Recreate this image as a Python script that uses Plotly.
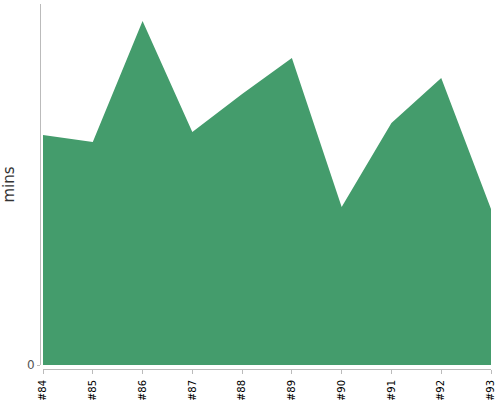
import plotly.graph_objects as go

# build numbers and duration (mins)
builds = ["#84", "#85", "#86", "#87", "#88", "#89", "#90", "#91", "#92", "#93"]
mins = [23.0, 22.3, 34.4, 23.3, 27.1, 30.7, 15.8, 24.2, 28.7, 15.6]
y_max = 36.1

fig = go.Figure()
fig.add_trace(go.Scatter(x=builds, y=mins, mode="lines", fill="tozeroy",
                         line=dict(width=0, color="#449c6c"),
                         fillcolor="#449c6c", hoverinfo="x+y"))

fig.update_layout(
    width=500, height=400,
    margin=dict(l=40, r=9, t=4, b=31, autoexpand=False),
    plot_bgcolor="white", paper_bgcolor="white",
    showlegend=False,
    font=dict(family="DejaVu Sans", color="#333"),
    xaxis=dict(domain=[3 / 451, 1], anchor="free", position=0,
               range=[0, len(builds) - 1], showgrid=False, zeroline=False,
               showline=True, linecolor="#bbb", linewidth=1, automargin=False,
               ticks="outside", ticklen=4, tickcolor="#bbb", ticklabelstandoff=2,
               tickangle=-90, tickfont=dict(size=10, color="black")),
    yaxis=dict(domain=[4 / 365, 1], anchor="free", position=0,
               range=[0, y_max], tickvals=[0], showgrid=False, zeroline=False,
               showline=True, linecolor="#bbb", linewidth=1, automargin=False,
               ticks="outside", ticklen=3, tickcolor="#bbb",
               tickfont=dict(size=12, color="#555"),
               title=dict(text="mins", font=dict(size=15, color="#333"), standoff=10)),
)

# page body has a default 8px margin, drop it so the figure fills the window
fig.write_html("out.html", config={"displayModeBar": False},
               post_script="document.body.style.margin='0px';")
